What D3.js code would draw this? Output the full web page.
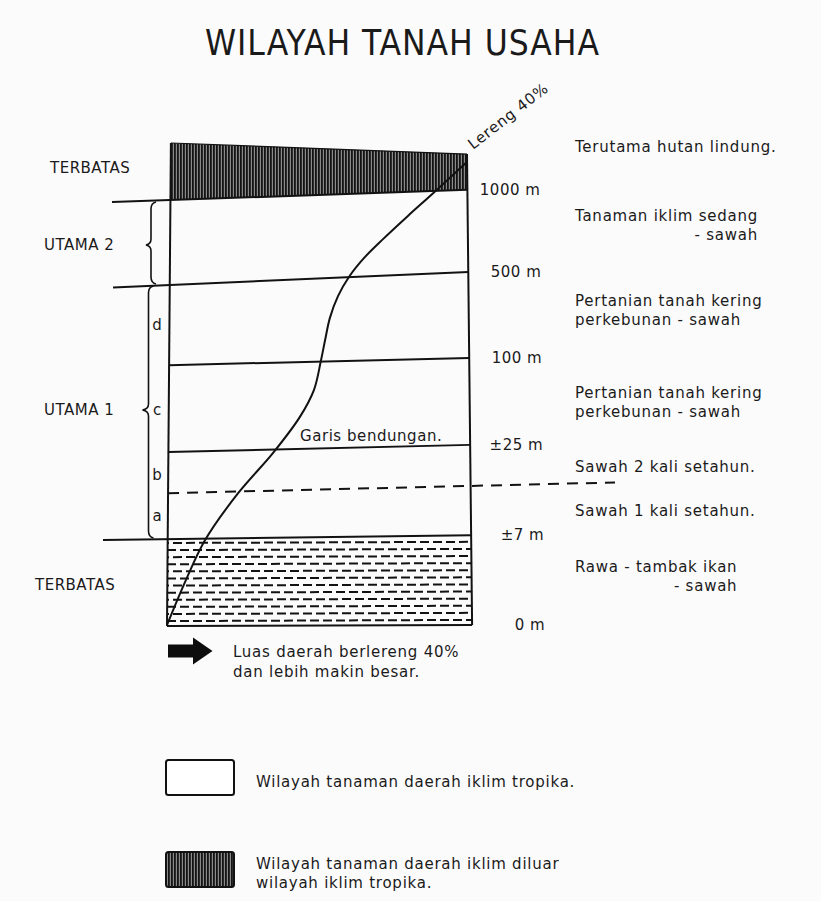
<!DOCTYPE html>
<html><head><meta charset="utf-8">
<script src="https://cdn.jsdelivr.net/npm/d3@7"></script>
<style>
body{margin:0;background:#fcfbfc}
text{font-family:"DejaVu Sans",Verdana,sans-serif;fill:#1a1a1a}
</style>
</head><body>
<svg id="c" width="821" height="901"></svg>
<script>
// ---------------- data ----------------
const titleText = "WILAYAH TANAH USAHA";
const levelLabels = ["1000 m", "500 m", "100 m", "\u00B125 m", "\u00B17 m", "0 m"];
// schematic height (0-100) of each boundary at the left and right edge of the box
const levelLeft  = [88.2, 70.6, 54.0, 36.0, 18.0, 0.0];
const levelRight = [90.3, 73.3, 55.5, 37.5, 18.8, 0.2];
const topEdge = [100, 97.7];          // upper edge of the non-tropical zone
const dashedLevel = [27.5, 29.0];     // boundary sawah 1x / 2x
const zoneNames = ["TERBATAS", "UTAMA 2", "UTAMA 1", "TERBATAS"];
const subZones = ["d", "c", "b", "a"];
const landUse = [
  ["Terutama hutan lindung."],
  ["Tanaman iklim sedang", "- sawah"],
  ["Pertanian tanah kering", "perkebunan - sawah"],
  ["Pertanian tanah kering", "perkebunan - sawah"],
  ["Sawah 2 kali setahun."],
  ["Sawah 1 kali setahun."],
  ["Rawa - tambak ikan", "- sawah"]
];
// slope 40% line (schematic x 0-100 across the box, height 0-100)
const slopeX = [-1, 5.3, 11.7, 22.7, 34.3, 43.3, 48, 50.3, 51.7, 53.3, 56, 59.7, 64.7, 71, 79.3, 87.7, 98.7];
const slopeY = [0.2, 9.5, 17.8, 27.5, 35.8, 43.3, 48.9, 54.9, 59.2, 63.8, 68.3, 72.3, 76.2, 80.1, 84.9, 89.6, 95.9];
const slopeLabel = "Lereng 40%";
const damLabel = "Garis bendungan.";
const arrowText = ["Luas daerah berlereng 40%", "dan lebih makin besar."];
const legendItems = [["Wilayah tanaman daerah iklim tropika."], ["Wilayah tanaman daerah iklim diluar", "wilayah iklim tropika."]];

// ---------------- drawing ----------------
const svg = d3.select("#c");
const x = d3.scaleLinear().domain([0, 100]).range([170, 470]);
const y = d3.scaleLinear().domain([0, 100]).range([626, 143]);
const INK = "#121212";
const LS = "0.75px";

const defs = svg.append("defs");
const hatch = defs.append("pattern").attr("id", "hatch").attr("patternUnits", "userSpaceOnUse")
  .attr("width", 3).attr("height", 10);
hatch.append("rect").attr("width", 3).attr("height", 10).attr("fill", "#8a8a8a");
hatch.append("rect").attr("width", 1.8).attr("height", 10).attr("fill", "#141414");

// box edges (slightly skewed as in drawing)
const leftTop = [x(0.3), y(topEdge[0])], leftBot = [x(-1), y(0)];
const rightTop = [x(99), y(topEdge[1])], rightBot = [x(100.7), y(levelRight[5])];
function leftX(py) { const t = (py - leftTop[1]) / (leftBot[1] - leftTop[1]); return leftTop[0] + t * (leftBot[0] - leftTop[0]); }
function rightX(py) { const t = (py - rightTop[1]) / (rightBot[1] - rightTop[1]); return rightTop[0] + t * (rightBot[0] - rightTop[0]); }

// title
svg.append("text").attr("x", 402).attr("y", 55).attr("text-anchor", "middle")
  .style("font-family", "'DejaVu Sans Condensed','DejaVu Sans',sans-serif").style("font-stretch", "condensed")
  .style("font-size", "35px").attr("textLength", 394).text(titleText);

// hatched top zone
const yl0 = y(levelLeft[0]), yr0 = y(levelRight[0]);
svg.append("path").attr("d", d3.line()([leftTop, rightTop, [rightX(yr0), yr0], [leftX(yl0), yl0]]) + "Z")
  .attr("fill", "url(#hatch)").attr("stroke", "none");

// water zone (dashes)
const yl7 = y(levelLeft[4]), yr7 = y(levelRight[4]);
const waterPoly = [[leftX(yl7), yl7], [rightX(yr7), yr7], rightBot, leftBot];
defs.append("clipPath").attr("id", "waterClip").append("path").attr("d", d3.line()(waterPoly) + "Z");
const wg = svg.append("g").attr("clip-path", "url(#waterClip)");
d3.range(12).forEach(i => {
  const py = 543 + i * 7.1;
  wg.append("line").attr("x1", 160).attr("x2", 480).attr("y1", py).attr("y2", py - 1.2)
    .attr("stroke", INK).attr("stroke-width", 2)
    .attr("stroke-dasharray", "9,4").attr("stroke-dashoffset", i % 2 ? 6 : 0);
});

// level lines
const leftExt = [112, 113, null, null, 103, null];
levelLabels.forEach((lab, i) => {
  const pyl = y(levelLeft[i]), pyr = y(levelRight[i]);
  const xl = leftX(pyl), xr = rightX(pyr);
  let sx = xl, sy = pyl;
  if (leftExt[i] !== null) { const k = (pyr - pyl) / (xr - xl); sx = leftExt[i]; sy = pyl + k * (sx - xl); }
  svg.append("line").attr("x1", sx).attr("y1", sy).attr("x2", xr).attr("y2", pyr)
    .attr("stroke", INK).attr("stroke-width", 2);
  svg.append("text").attr("x", xr + 73).attr("y", pyr).attr("dy", "0.35em").attr("text-anchor", "end")
    .style("font-size", "15px").style("letter-spacing", "0.5px").text(lab);
});

// top edge
svg.append("line").attr("x1", leftTop[0]).attr("y1", leftTop[1]).attr("x2", rightTop[0]).attr("y2", rightTop[1])
  .attr("stroke", INK).attr("stroke-width", 1.2);
// side edges
svg.append("line").attr("x1", leftTop[0]).attr("y1", leftTop[1]).attr("x2", leftBot[0]).attr("y2", leftBot[1])
  .attr("stroke", INK).attr("stroke-width", 2);
svg.append("line").attr("x1", rightTop[0]).attr("y1", rightTop[1]).attr("x2", rightBot[0]).attr("y2", rightBot[1])
  .attr("stroke", INK).attr("stroke-width", 2);

// dashed boundary
const dyl = y(dashedLevel[0]), dyr = y(dashedLevel[1]);
const dk = (dyr - dyl) / (x(100) - leftX(dyl));
svg.append("line").attr("x1", leftX(dyl)).attr("y1", dyl).attr("x2", 615)
  .attr("y2", dyl + dk * (615 - leftX(dyl)))
  .attr("stroke", INK).attr("stroke-width", 2).attr("stroke-dasharray", "11,8");

// slope curve
const slopePts = slopeX.map((v, i) => [x(v), y(slopeY[i])]);
svg.append("path").attr("d", d3.line().curve(d3.curveCatmullRom.alpha(0.5))(slopePts))
  .attr("fill", "none").attr("stroke", INK).attr("stroke-width", 2);
svg.append("text").attr("transform", "translate(473,150) rotate(-38)")
  .style("font-size", "15px").style("letter-spacing", LS).text(slopeLabel);
svg.append("text").attr("x", 300).attr("y", 436).attr("dy", "0.35em")
  .style("font-size", "15px").style("letter-spacing", "0.55px").text(damLabel);

// braces
function brace(bx, y0, y1, ym, d) {
  const p = d3.path();
  p.moveTo(bx + 5, y0);
  p.quadraticCurveTo(bx, y0 + 1, bx, y0 + 7);
  p.lineTo(bx, ym - 6);
  p.quadraticCurveTo(bx, ym - 1, bx - d, ym);
  p.quadraticCurveTo(bx, ym + 1, bx, ym + 6);
  p.lineTo(bx, y1 - 7);
  p.quadraticCurveTo(bx, y1 - 1, bx + 5, y1);
  return p.toString();
}
svg.append("path").attr("d", brace(151, 202, 284, 245, 5)).attr("fill", "none").attr("stroke", INK).attr("stroke-width", 1.6);
svg.append("path").attr("d", brace(148.5, 286, 538, 410, 6)).attr("fill", "none").attr("stroke", INK).attr("stroke-width", 1.6);

// zone labels
const zonePos = [[50, 168], [44, 245], [44, 410], [35, 585]];
zoneNames.forEach((z, i) => svg.append("text").attr("x", zonePos[i][0]).attr("y", zonePos[i][1]).attr("dy", "0.35em")
  .style("font-size", "15px").style("letter-spacing", "0.5px").text(z));
const subPos = [325, 410, 475, 516];
subZones.forEach((s, i) => svg.append("text").attr("x", 157).attr("y", subPos[i]).attr("dy", "0.35em")
  .attr("text-anchor", "middle").style("font-size", "15px").text(s));

// land-use descriptions
const luY = [147, 216, 301, 393, 467, 511, 567];
landUse.forEach((lines, i) => {
  const t1 = svg.append("text").attr("x", 575).attr("y", luY[i]).attr("dy", "0.35em")
    .style("font-size", "15px").style("letter-spacing", LS).text(lines[0]);
  if (lines.length > 1) {
    const w = t1.node().getComputedTextLength();
    const right = lines[1].startsWith("-");
    svg.append("text").attr("x", right ? 575 + w : 575).attr("y", luY[i] + 18.5).attr("dy", "0.35em")
      .attr("text-anchor", right ? "end" : "start")
      .style("font-size", "15px").style("letter-spacing", LS).text(lines[1]);
  }
});

// arrow note
svg.append("path").attr("d", "M168,644.5L193,644.5L193,637.5L212.5,651L193,664.5L193,657.5L168,657.5Z").attr("fill", "#0d0d0d");
arrowText.forEach((t, i) => svg.append("text").attr("x", 233).attr("y", 652 + i * 19.5).attr("dy", "0.35em")
  .style("font-size", "15px").style("letter-spacing", LS).text(t));

// legend
const legY = [760, 852];
legendItems.forEach((lines, i) => {
  svg.append("rect").attr("x", 166).attr("y", legY[i]).attr("width", 68).attr("height", 35).attr("rx", 2.5)
    .attr("fill", i === 0 ? "#fff" : "url(#hatch)").attr("stroke", INK).attr("stroke-width", 2);
  lines.forEach((t, j) => svg.append("text").attr("x", 256)
    .attr("y", (lines.length === 1 ? legY[i] + 22 : legY[i] + 12 + j * 19)).attr("dy", "0.35em")
    .style("font-size", "15px").style("letter-spacing", LS).text(t));
});
</script>
</body></html>
